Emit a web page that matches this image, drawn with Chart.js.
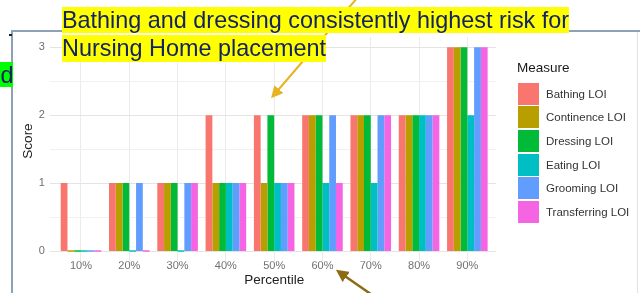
<!DOCTYPE html>
<html>
<head>
<meta charset="utf-8">
<script src="https://cdn.jsdelivr.net/npm/chart.js@4/dist/chart.umd.min.js"></script>
<style>
  html, body { margin: 0; padding: 0; background: #ffffff; }
  body { width: 640px; height: 293px; position: relative; overflow: hidden; font-family: "Liberation Sans", Arial, sans-serif; }
  #chart { position: absolute; left: 0; top: 0; }
  .abs { position: absolute; }
  .hl { position: absolute; left: 62px; background: #ffff00; color: #132363; font-size: 23.4px; white-space: nowrap; }
  .leg-key { position: absolute; width: 21px; height: 22px; }
  .leg-lab { position: absolute; font-size: 11.5px; color: #333; line-height: 14px; white-space: nowrap; }
</style>
</head>
<body>
<canvas id="chart" width="640" height="293"></canvas>

<!-- slide frame -->
<div class="abs" style="left:11px;top:30px;width:629px;height:2px;background:#8da2b4;"></div>
<div class="abs" style="left:11px;top:30px;width:2px;height:263px;background:#8da2b4;"></div>
<div class="abs" style="left:637px;top:32px;width:1px;height:261px;background:#e2e2e2;"></div>
<div class="abs" style="left:9px;top:34px;width:3px;height:2px;background:#222;"></div>

<!-- arrows -->
<svg class="abs" style="left:0;top:0;" width="640" height="293">
  <defs>
    <marker id="hg" markerWidth="6" markerHeight="6" refX="4.5" refY="3" orient="auto" markerUnits="strokeWidth">
      <path d="M0,0 L6,3 L0,6 z" fill="#e8b322"/>
    </marker>
    <marker id="hb" markerWidth="5" markerHeight="5" refX="3.5" refY="2.5" orient="auto" markerUnits="strokeWidth">
      <path d="M0,0 L5,2.5 L0,5 z" fill="#8b6b14"/>
    </marker>
  </defs>
  <line x1="358" y1="-3" x2="273" y2="96" stroke="#e8b322" stroke-width="2" marker-end="url(#hg)"/>
  <line x1="375" y1="297" x2="339" y2="272" stroke="#8b6b14" stroke-width="2.5" marker-end="url(#hb)"/>
</svg>

<!-- title highlight -->
<div class="hl" style="top:7px;height:26px;line-height:26px;">Bathing and dressing consistently highest risk for</div>
<div class="hl" style="top:35px;height:27px;line-height:27px;">Nursing Home placement</div>

<!-- green fragment -->
<div class="abs" style="left:0;top:62px;width:13px;height:25px;background:#00ff00;overflow:hidden;">
  <span class="abs" style="left:0.5px;top:0.4px;font-size:23.4px;line-height:27px;color:#132363;">d</span>
</div>

<!-- legend -->
<div id="legend"></div>

<script>
const categories = ['10%', '20%', '30%', '40%', '50%', '60%', '70%', '80%', '90%'];
const measures = ['Bathing LOI', 'Continence LOI', 'Dressing LOI', 'Eating LOI', 'Grooming LOI', 'Transferring LOI'];
const bathing      = [1, 1, 1, 2, 2, 2, 2, 2, 3];
const continence   = [0, 1, 1, 1, 1, 2, 2, 2, 3];
const dressing     = [0, 1, 1, 1, 2, 2, 2, 2, 3];
const eating       = [0, 0, 0, 1, 1, 1, 1, 2, 2];
const grooming     = [0, 1, 1, 1, 1, 2, 2, 2, 3];
const transferring = [0, 0, 1, 1, 1, 1, 2, 2, 3];
const yTicks = [0, 0.5, 1, 1.5, 2, 2.5, 3];
const colors = ['#F8766D', '#B79F00', '#00BA38', '#00BFC4', '#619CFF', '#F564E3'];

const seriesValues = [bathing, continence, dressing, eating, grooming, transferring];

// HTML legend built from the series names / colours
const leg = document.getElementById('legend');
const t = document.createElement('div');
t.className = 'abs';
t.style.cssText = 'left:517px;top:60px;font-size:13.5px;line-height:16px;color:#1a1a1a;';
t.textContent = 'Measure';
leg.appendChild(t);
measures.forEach((m, i) => {
  const k = document.createElement('div');
  k.className = 'leg-key';
  k.style.left = '517.5px';
  k.style.top = (82.8 + i * 23.6) + 'px';
  k.style.background = colors[i];
  leg.appendChild(k);
  const l = document.createElement('div');
  l.className = 'leg-lab';
  l.style.left = '546px';
  l.style.top = (82.5 + i * 23.6 + 11.3 - 7) + 'px';
  l.textContent = m;
  leg.appendChild(l);
});

const panelGrid = {
  id: 'panelGrid',
  beforeDatasetsDraw(chart) {
    const y = chart.scales.y;
    const ctx = chart.ctx;
    ctx.save();
    yTicks.forEach(v => {
      const py = Math.round(y.getPixelForValue(v)) + 0.5;
      ctx.strokeStyle = Number.isInteger(v) ? '#e4e4e4' : '#f1f1f1';
      ctx.lineWidth = Number.isInteger(v) ? 1.2 : 1;
      ctx.beginPath();
      ctx.moveTo(50, py);
      ctx.lineTo(496, py);
      ctx.stroke();
    });
    ctx.restore();
  },
  afterDraw(chart) {
    const ctx = chart.ctx;
    ctx.save();
    ctx.translate(28.5, 141);
    ctx.rotate(-Math.PI / 2);
    ctx.font = '13.5px "Liberation Sans", Arial, sans-serif';
    ctx.fillStyle = '#222';
    ctx.textAlign = 'center';
    ctx.textBaseline = 'middle';
    ctx.fillText('Score', 0, 0);
    ctx.restore();
  }
};

new Chart(document.getElementById('chart'), {
  type: 'bar',
  data: {
    labels: categories,
    datasets: measures.map((m, i) => ({
      label: m,
      data: seriesValues[i],
      backgroundColor: colors[i],
      borderWidth: 0,
      minBarLength: 1.5,
      categoryPercentage: 0.84,
      barPercentage: 1.0
    }))
  },
  options: {
    responsive: false,
    animation: false,
    devicePixelRatio: 1,
    layout: { padding: { top: 37.1, right: 148.5, left: 0, bottom: 0 } },
    plugins: { legend: { display: false }, tooltip: { enabled: false } },
    scales: {
      x: {
        afterFit(s) { s.height = 31.8; },
        grid: { offset: false, color: '#ebebeb', lineWidth: 1, drawTicks: false },
        border: { display: false },
        ticks: {
          color: '#6e6e6e',
          font: { size: 11, family: '"Liberation Sans", Arial, sans-serif' },
          padding: -2,
          maxRotation: 0,
          autoSkip: false
        },
        title: {
          display: true,
          text: 'Percentile',
          color: '#222',
          font: { size: 13.5, family: '"Liberation Sans", Arial, sans-serif' },
          padding: { top: 0, bottom: 5 }
        }
      },
      y: {
        min: -0.15,
        max: 3.15,
        afterFit(s) { s.width = 56.85; },
        afterBuildTicks(s) { s.ticks = yTicks.map(v => ({ value: v })); },
        grid: { display: false, drawTicks: false },
        border: { display: false },
        ticks: {
          color: '#6e6e6e',
          font: { size: 11, family: '"Liberation Sans", Arial, sans-serif' },
          padding: 12,
          callback: v => (Number.isInteger(v) ? String(v) : '')
        }
      }
    }
  },
  plugins: [panelGrid]
});
</script>
</body>
</html>
